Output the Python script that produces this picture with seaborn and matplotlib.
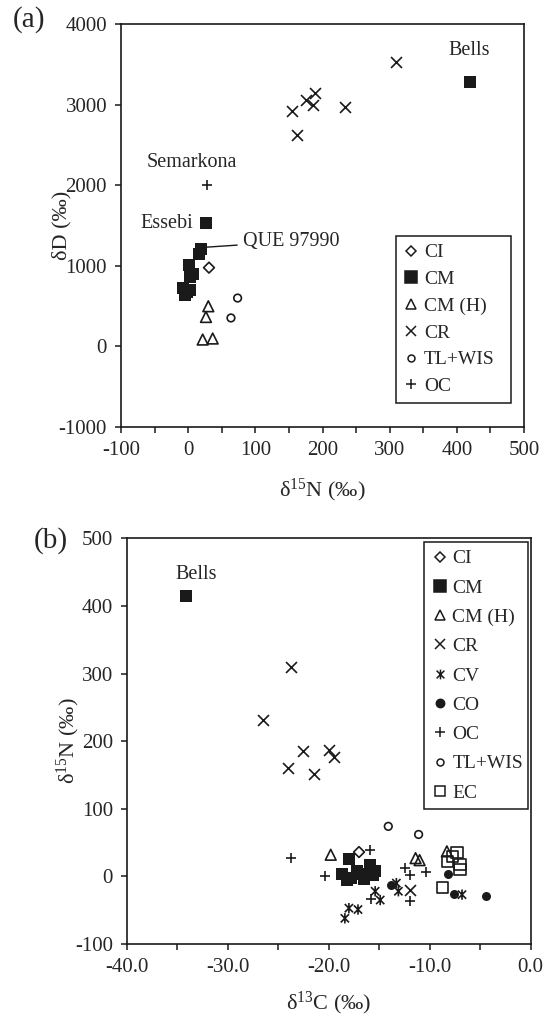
import numpy as np
import matplotlib
matplotlib.use("Agg")
import matplotlib.pyplot as plt
import seaborn as sns
from matplotlib.path import Path
from matplotlib.lines import Line2D
from matplotlib.ticker import MultipleLocator, FormatStrFormatter

# ---------------- Panel (a): d15N (x) vs dD (y) ----------------
a_ci_x = [31]
a_ci_y = [977]
a_cm_x = [419, 27, 18.6, 16.5, 1.6, 7.6, 2.7, -8.2, -2.2, -4.8, 2.7]
a_cm_y = [3286, 1528, 1212, 1141, 1005, 902, 860, 729, 675, 634, 696]
a_cmh_x = [30, 26.5, 21.6, 36.5]
a_cmh_y = [498, 365, 85, 98]
a_cr_x = [310, 189, 176, 186, 154, 233, 162]
a_cr_y = [3530, 3150, 3059, 2998, 2923, 2973, 2622]
a_tl_x = [73.6, 63.7]
a_tl_y = [600, 353]
a_oc_x = [28]
a_oc_y = [2000]

# ---------------- Panel (b): d13C (x) vs d15N (y) ----------------
b_ci_x = [-17.0]
b_ci_y = [36]
b_cm_x = [-34.1, -18.0, -15.9, -18.7, -17.8, -16.8, -15.6, -18.2, -16.5, -15.4, -17.2]
b_cm_y = [414, 26, 17, 4, -2, 3, 2, -6, -4, 8, 8]
b_cmh_x = [-19.8, -11.4, -11.0, -8.3]
b_cmh_y = [32, 27, 24, 37]
b_cr_x = [-26.5, -23.7, -24.0, -22.5, -21.5, -20.0, -19.5, -12.0]
b_cr_y = [232, 310, 160, 185, 152, 187, 176, -20]
b_cv_x = [-15.4, -14.9, -18.0, -17.1, -18.4, -13.3, -13.1, -6.8]
b_cv_y = [-22, -35, -47, -49, -62, -10, -22, -27]
b_co_x = [-13.8, -8.2, -7.6, -4.4]
b_co_y = [-13, 3, -26, -29]
b_oc_x = [-23.7, -20.4, -15.9, -15.8, -12.4, -12.0, -10.4, -12.0]
b_oc_y = [27, 1, 39, -34, 12, 2, 7, -37]
b_tl_x = [-14.1, -11.1]
b_tl_y = [74, 62]
b_ec_x = [-7.3, -7.7, -8.2, -7.0, -7.0, -8.7]
b_ec_y = [35.6, 29.6, 22.3, 17.4, 10, -17]

legend_a = ["CI", "CM", "CM (H)", "CR", "TL+WIS", "OC"]
legend_b = ["CI", "CM", "CM (H)", "CR", "CV", "CO", "OC", "TL+WIS", "EC"]

sns.set_style("ticks")
plt.rcParams["font.family"] = ["Liberation Serif", "DejaVu Serif"]
plt.rcParams["mathtext.fontset"] = "custom"
plt.rcParams["mathtext.rm"] = "Liberation Serif"
plt.rcParams["mathtext.it"] = "Liberation Serif:italic"
plt.rcParams["axes.unicode_minus"] = False

K = "#1a1a1a"
cv_path = Path([(0, -1), (0, 1), (-0.8, -0.8), (0.8, 0.8), (-0.8, 0.8), (0.8, -0.8)],
               [Path.MOVETO, Path.LINETO, Path.MOVETO, Path.LINETO, Path.MOVETO, Path.LINETO])

STY = {
    "CI": dict(marker="D", s=30, facecolor="none", edgecolor=K, linewidth=1.2),
    "CM": dict(marker="s", s=78, facecolor=K, edgecolor=K, linewidth=0),
    "CM (H)": dict(marker="^", s=60, facecolor="none", edgecolor=K, linewidth=1.2),
    "CR": dict(marker="x", s=62, linewidth=1.2),
    "CV": dict(marker=cv_path, s=55, facecolor="none", edgecolor=K, linewidth=1.2),
    "CO": dict(marker="o", s=42, facecolor=K, edgecolor=K, linewidth=0),
    "OC": dict(marker="+", s=62, linewidth=1.2),
    "TL+WIS": dict(marker="o", s=30, facecolor="none", edgecolor=K, linewidth=1.2),
    "EC": dict(marker="s", s=64, facecolor="none", edgecolor=K, linewidth=1.2),
}
LEG = {
    "CI": dict(marker="D", markersize=5, markerfacecolor="none"),
    "CM": dict(marker="s", markersize=8, markerfacecolor=K),
    "CM (H)": dict(marker="^", markersize=6.5, markerfacecolor="none"),
    "CR": dict(marker="x", markersize=6.5),
    "CV": dict(marker=cv_path, markersize=7, markerfacecolor="none"),
    "CO": dict(marker="o", markersize=6, markerfacecolor=K),
    "OC": dict(marker="+", markersize=7),
    "TL+WIS": dict(marker="o", markersize=5, markerfacecolor="none"),
    "EC": dict(marker="s", markersize=7, markerfacecolor="none"),
}


def draw(ax, name, xs, ys):
    sns.scatterplot(x=xs, y=ys, ax=ax, color=K, zorder=3, **STY[name])


def handles(names):
    return [Line2D([], [], linestyle="none", color=K, markeredgecolor=K,
                   markeredgewidth=1.1, label=n, **LEG[n]) for n in names]


def style_axes(ax):
    for sp in ax.spines.values():
        sp.set_visible(True)
        sp.set_linewidth(1.2)
        sp.set_color(K)
    ax.tick_params(which="both", direction="out", length=4, width=1.1, color=K,
                   labelsize=15, pad=6, top=False, right=False)
    ax.set_facecolor("white")
    ax.grid(False)


W, H = 549, 1017
fig = plt.figure(figsize=(W / 100, H / 100), dpi=100)
fig.patch.set_facecolor("white")

# ---------------- Panel (a) ----------------
axa = fig.add_axes([121 / W, 1 - 427 / H, 403 / W, 403 / H])
draw(axa, "OC", a_oc_x, a_oc_y)
draw(axa, "TL+WIS", a_tl_x, a_tl_y)
draw(axa, "CR", a_cr_x, a_cr_y)
draw(axa, "CM (H)", a_cmh_x, a_cmh_y)
draw(axa, "CM", a_cm_x, a_cm_y)
draw(axa, "CI", a_ci_x, a_ci_y)
axa.set_xlim(-100, 500)
axa.set_ylim(-1000, 4000)
axa.xaxis.set_major_locator(MultipleLocator(100))
axa.xaxis.set_minor_locator(MultipleLocator(50))
axa.yaxis.set_major_locator(MultipleLocator(1000))
style_axes(axa)
axa.set_xlabel("δ$^{15}$N (‰)", fontsize=16)
axa.set_ylabel("δD (‰)", fontsize=16)
axa.xaxis.set_label_coords(0.5, -0.124)
axa.yaxis.set_label_coords(-0.122, 0.5)
axa.text(418, 3670, "Bells", fontsize=14.5, ha="center", va="center")
axa.text(6, 2280, "Semarkona", fontsize=14.5, ha="center", va="center")
axa.text(7, 1528, "Essebi", fontsize=14.5, ha="right", va="center")
axa.annotate("QUE 97990", xy=(27, 1231), xytext=(82, 1302), fontsize=14.5,
             ha="left", va="center",
             arrowprops=dict(arrowstyle="-", color=K, lw=1.0, shrinkA=2, shrinkB=0))
lga = axa.legend(handles=handles(legend_a), loc="upper left", mode="expand",
                 bbox_to_anchor=(0.682, 0.0, 0.285, 0.474), borderaxespad=0, fontsize=14,
                 frameon=True, fancybox=False, edgecolor=K, framealpha=1,
                 handlelength=0.8, handletextpad=0.25, labelspacing=0.47,
                 borderpad=0.4)
lga.get_frame().set_linewidth(1.1)

# ---------------- Panel (b) ----------------
axb = fig.add_axes([126.7 / W, 1 - 944 / H, 404 / W, 405.7 / H])
draw(axb, "TL+WIS", b_tl_x, b_tl_y)
draw(axb, "EC", b_ec_x, b_ec_y)
draw(axb, "CM (H)", b_cmh_x, b_cmh_y)
draw(axb, "OC", b_oc_x, b_oc_y)
draw(axb, "CR", b_cr_x, b_cr_y)
draw(axb, "CV", b_cv_x, b_cv_y)
draw(axb, "CO", b_co_x, b_co_y)
draw(axb, "CM", b_cm_x, b_cm_y)
draw(axb, "CI", b_ci_x, b_ci_y)
axb.set_xlim(-40, 0)
axb.set_ylim(-100, 500)
axb.xaxis.set_major_locator(MultipleLocator(10))
axb.xaxis.set_minor_locator(MultipleLocator(5))
axb.xaxis.set_major_formatter(FormatStrFormatter("%.1f"))
axb.yaxis.set_major_locator(MultipleLocator(100))
style_axes(axb)
axb.set_xlabel("δ$^{13}$C (‰)", fontsize=16)
axb.set_ylabel("δ$^{15}$N (‰)", fontsize=16)
axb.xaxis.set_label_coords(0.5, -0.113)
axb.yaxis.set_label_coords(-0.111, 0.5)
axb.text(-33.1, 446, "Bells", fontsize=14.5, ha="center", va="center")
lgb = axb.legend(handles=handles(legend_b), loc="upper left", mode="expand",
                 bbox_to_anchor=(0.736, 0.0, 0.257, 0.991), borderaxespad=0, fontsize=14,
                 frameon=True, fancybox=False, edgecolor=K, framealpha=1,
                 handlelength=0.8, handletextpad=0.25, labelspacing=0.6,
                 borderpad=0.4)
lgb.get_frame().set_linewidth(1.1)

fig.text(29 / W, 1 - 20 / H, "(a)", fontsize=21, ha="center", va="center")
fig.text(51 / W, 1 - 541 / H, "(b)", fontsize=21, ha="center", va="center")

fig.savefig("out.png", dpi=100, facecolor="white")
